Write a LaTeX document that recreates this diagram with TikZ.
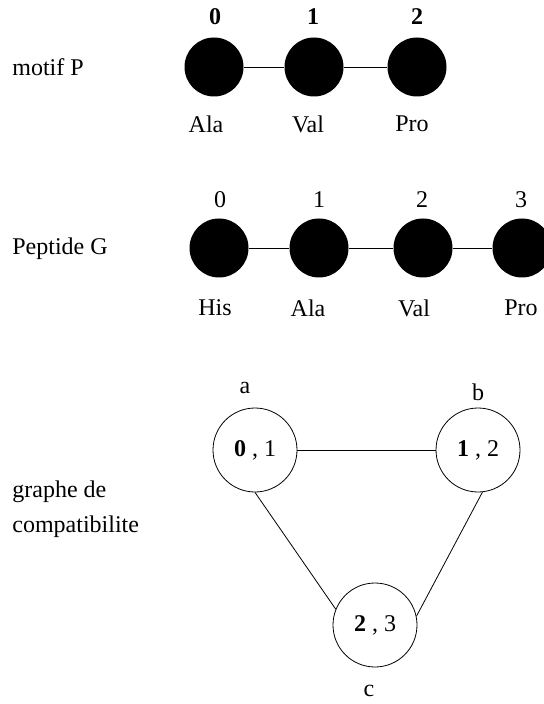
\documentclass[tikz,border=0pt]{standalone}
\usepackage{fontspec}
\setmainfont{Liberation Serif}
\usetikzlibrary{positioning}
\tikzset{font=\fontsize{12}{17.5}\selectfont}
\tikzset{every node/.style={inner sep=0pt}}
\tikzset{residue/.style={circle, fill=black, minimum size=29.5pt}}
\tikzset{pair/.style={circle, draw=black, minimum size=42pt}}
\begin{document}
\begin{tikzpicture}[x=0.5pt,y=-0.5pt]
  \useasboundingbox (0,0) rectangle (543,704);
  % motif P
  \node[anchor=west] (motif) at (12,67) {motif P};
  \node[residue] (p0) at (214,67) {};
  \node[residue] (p1) at (314,67) {};
  \node[residue] (p2) at (417,67) {};
  \draw (p0) -- (p1) -- (p2);
  \node (pi0) at (215,17) {\textbf{0}};
  \node (pi1) at (313,17) {\textbf{1}};
  \node (pi2) at (417,17) {\textbf{2}};
  \node (pa0) at (206,124) {Ala};
  \node (pa1) at (308,124) {Val};
  \node (pa2) at (412,124) {Pro};
  % peptide G
  \node[anchor=west] (peptide) at (12,249) {Peptide G};
  \node[residue] (g0) at (219,248) {};
  \node[residue] (g1) at (319,248) {};
  \node[residue] (g2) at (423,248) {};
  \node[residue] (g3) at (522,248) {};
  \draw (g0) -- (g1) -- (g2) -- (g3);
  \node (gi0) at (220,200) {0};
  \node (gi1) at (319,200) {1};
  \node (gi2) at (422,200) {2};
  \node (gi3) at (521,200) {3};
  \node (ga0) at (215,308) {His};
  \node (ga1) at (308,308) {Ala};
  \node (ga2) at (414,308) {Val};
  \node (ga3) at (521,308) {Pro};
  % graphe de compatibilite
  \node[anchor=west, align=left] (graphe) at (12,509) {graphe de\\compatibilite};
  \node[pair] (a) at (255,450) {\textbf{0} , 1};
  \node[pair] (b) at (478,450) {\textbf{1} , 2};
  \node[pair] (c) at (375,625) {\textbf{2} , 3};
  \draw (a) -- (b);
  \draw (a.south) -- (c.158);
  \draw (b.-84) -- (c.12);
  \node (la) at (245,388) {a};
  \node (lb) at (478,392) {b};
  \node (lc) at (369,691) {c};
\end{tikzpicture}
\end{document}
